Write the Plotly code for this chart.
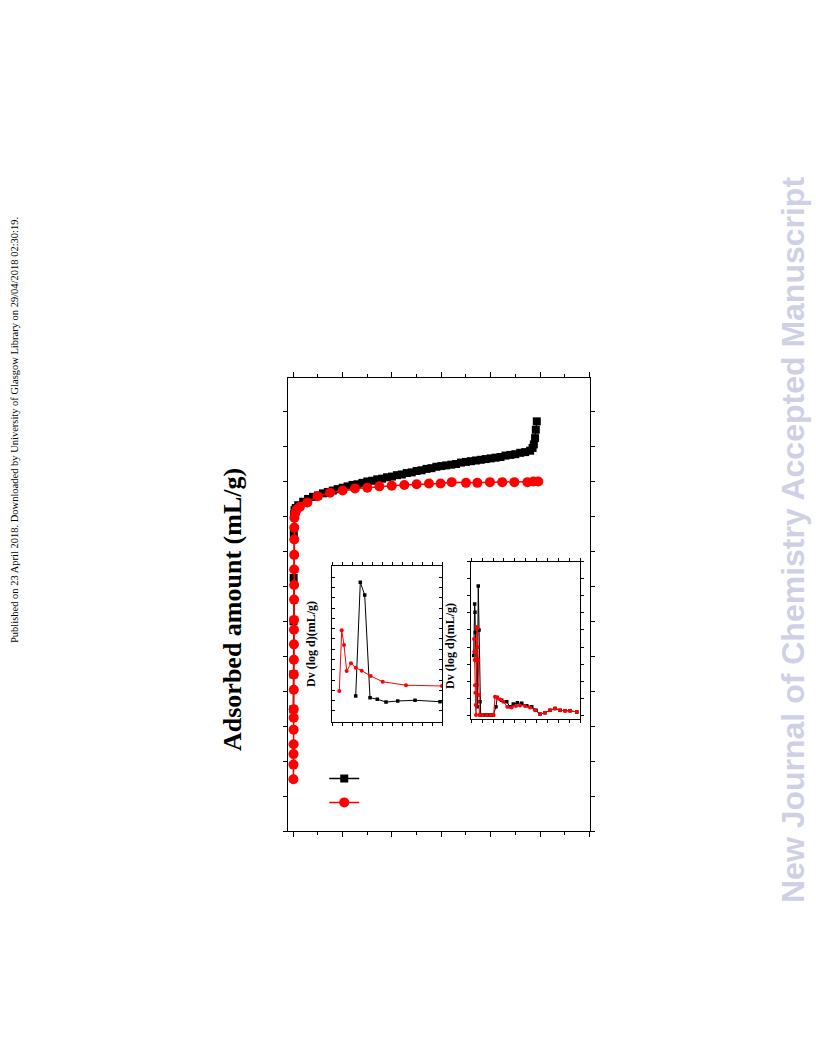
import plotly.graph_objects as go

# ---------------- main isotherm data ----------------
black_p = [0.0002, 0.0005, 0.001, 0.0015, 0.002, 0.003, 0.005,
           0.01, 0.02, 0.04, 0.06, 0.08, 0.10, 0.12, 0.14, 0.16, 0.18, 0.20,
           0.22, 0.24, 0.26, 0.28, 0.30, 0.32, 0.34, 0.36, 0.38, 0.40, 0.42,
           0.44, 0.46, 0.48, 0.50, 0.52, 0.54, 0.56, 0.58, 0.60, 0.62, 0.64,
           0.66, 0.68, 0.70, 0.72, 0.74, 0.76, 0.78, 0.80, 0.82, 0.84, 0.86,
           0.88, 0.90, 0.92, 0.94, 0.96, 0.97, 0.975, 0.98, 0.983, 0.987]
black_v = [174, 224, 300, 362, 426, 453, 459,
           462, 466, 471, 475, 478, 480, 483, 485, 487, 489, 491,
           493, 495, 496, 498, 500, 501, 503, 504, 506, 507, 509,
           510, 512, 513, 515, 516, 518, 519, 521, 522, 523, 524,
           525, 527, 528, 529, 530, 531, 532, 533, 534, 535, 537,
           538, 539, 541, 542, 544, 548, 553, 562, 574, 586]

red_p = [0.0005, 0.0007, 0.0009, 0.0011, 0.0013, 0.0015, 0.0017, 0.0019,
         0.0021, 0.0023, 0.0025, 0.0027, 0.0029, 0.0031, 0.0033, 0.0035,
         0.0037, 0.0039, 0.004, 0.0045,
         0.008, 0.014, 0.027, 0.057, 0.099, 0.149, 0.200, 0.250, 0.300,
         0.349, 0.399, 0.450, 0.500, 0.550, 0.597, 0.642, 0.700, 0.746,
         0.797, 0.847, 0.896, 0.949, 0.973, 0.993]
red_v = [74, 95, 110, 124, 145, 162, 174, 202, 224, 245, 267, 288, 302,
         331, 352, 374, 395, 417, 434, 448,
         455, 460, 464, 470, 479, 484, 487, 490, 491, 493, 494, 495, 496,
         497, 497, 499, 498, 498, 499, 499, 499, 499, 500, 500]

# ---------------- inset 1 (micropore distribution) ----------------
in1_black_x = [0.537, 0.583, 0.627, 0.680, 0.753, 0.840, 0.957, 1.130, 1.380]
in1_black_y = [0.146, 1.250, 1.126, 0.129, 0.114, 0.087, 0.097, 0.104, 0.090]
in1_red_x = [0.373, 0.397, 0.420, 0.447, 0.490, 0.537, 0.597, 0.687, 0.807, 1.040, 1.400]
in1_red_y = [0.194, 0.783, 0.641, 0.388, 0.463, 0.420, 0.391, 0.340, 0.284, 0.250, 0.243]

# ---------------- inset 2 (full pore size distribution) ----------------
in2_black_x = [0.22, 0.31, 0.34, 0.37, 0.43, 0.50, 0.55, 0.64, 0.71, 0.80, 0.86,
               1.20, 1.50, 1.80, 2.02, 2.27, 2.39, 2.80, 3.26, 3.56, 3.86, 4.23,
               4.64, 5.10, 5.56, 5.95, 6.32, 6.78, 7.24, 7.70, 8.16, 8.62, 9.08, 9.70]
in2_black_y = [0.350, 0.653, 0.604, 0.486, 0.324, 0.176, 0.049, 0.759, 0.500, 0.078, 0.0,
               0.0, 0.0, 0.0, 0.0, 0.049, 0.104, 0.088, 0.078, 0.049, 0.065, 0.072,
               0.069, 0.055, 0.049, 0.029, 0.006, 0.014, 0.029, 0.039, 0.029, 0.025, 0.025, 0.019]
in2_red_x = [0.25, 0.27, 0.31, 0.34, 0.37, 0.40, 0.43, 0.50, 0.55, 0.58, 0.64, 0.71, 0.75,
             1.00, 1.40, 1.80, 2.05, 2.18, 2.39, 2.64, 2.94, 3.31, 3.72, 4.11, 4.48,
             4.94, 5.40, 5.86, 6.32, 6.78, 7.24, 7.70, 8.16, 8.62, 9.08, 9.70]
in2_red_y = [0.447, 0.372, 0.324, 0.176, 0.131, 0.059, 0.0, 0.518, 0.510, 0.398, 0.324, 0.118, 0.0,
             0.0, 0.0, 0.0, 0.0, 0.108, 0.104, 0.092, 0.078, 0.049, 0.045, 0.053, 0.057,
             0.053, 0.045, 0.029, 0.006, 0.014, 0.029, 0.039, 0.029, 0.025, 0.025, 0.019]

y_title = "Adsorbed amount (mL/g)"
inset_title = "Dv (log d)(mL/g)"
side_note = "Published on 23 April 2018. Downloaded by University of Glasgow Library on 29/04/2018 02:30:19."
watermark = "New Journal of Chemistry Accepted Manuscript"

fig = go.Figure()

fig.add_trace(go.Scatter(x=black_p, y=black_v, mode="lines+markers", name=" ",
                         line=dict(color="black", width=1.5),
                         marker=dict(symbol="square", size=8, color="black")))
fig.add_trace(go.Scatter(x=red_p, y=red_v, mode="lines+markers", name=" ",
                         line=dict(color="#ff0000", width=1.5),
                         marker=dict(symbol="circle", size=10, color="#ff0000")))

fig.add_trace(go.Scatter(x=in1_black_x, y=in1_black_y, mode="lines+markers", showlegend=False,
                         xaxis="x2", yaxis="y2",
                         line=dict(color="black", width=1),
                         marker=dict(symbol="square", size=3.5, color="black")))
fig.add_trace(go.Scatter(x=in1_red_x, y=in1_red_y, mode="lines+markers", showlegend=False,
                         xaxis="x2", yaxis="y2",
                         line=dict(color="#ff0000", width=1),
                         marker=dict(symbol="circle", size=4, color="#ff0000")))

fig.add_trace(go.Scatter(x=in2_black_x, y=in2_black_y, mode="lines+markers", showlegend=False,
                         xaxis="x3", yaxis="y3",
                         line=dict(color="black", width=1),
                         marker=dict(symbol="square", size=3.5, color="black")))
fig.add_trace(go.Scatter(x=in2_red_x, y=in2_red_y, mode="lines+markers", showlegend=False,
                         xaxis="x3", yaxis="y3",
                         line=dict(color="#ff0000", width=1),
                         marker=dict(symbol="circle", size=4, color="#ff0000")))

axis_common = dict(showline=True, linecolor="black", mirror="ticks", showgrid=False,
                   zeroline=False, showticklabels=False, tickcolor="black")

fig.update_layout(
    width=816, height=1056,
    margin=dict(l=288, r=226, t=378, b=225),
    paper_bgcolor="white", plot_bgcolor="white",
    font=dict(family="Liberation Serif", color="black"),
    xaxis=dict(**axis_common, range=[-0.0215, 1.2027], dtick=0.2, tick0=0,
               ticks="outside", ticklen=5, linewidth=1.3,
               minor=dict(dtick=0.1, ticks="outside", ticklen=3, tickcolor="black")),
    yaxis=dict(**axis_common, range=[0, 648], dtick=50, tick0=0,
               ticks="outside", ticklen=4, linewidth=1.3),
    xaxis2=dict(**axis_common, domain=[0.1457, 0.51], anchor="y2",
                range=[0.3, 1.4], dtick=0.1, tick0=0.3, ticks="outside", ticklen=3, linewidth=1),
    yaxis2=dict(**axis_common, domain=[0.2406, 0.585], anchor="x2",
                range=[-0.107, 1.408], dtick=0.1, tick0=0, ticks="inside", ticklen=3, linewidth=1),
    xaxis3=dict(**axis_common, domain=[0.607, 0.967], anchor="y3",
                range=[0, 10], dtick=1, tick0=0, ticks="outside", ticklen=3, linewidth=1),
    yaxis3=dict(**axis_common, domain=[0.247, 0.594], anchor="x3",
                range=[-0.0235, 0.9], dtick=0.1, tick0=0, ticks="outside", ticklen=3, linewidth=1),
    legend=dict(x=0.12, y=0.153, xanchor="left", yanchor="top",
                bgcolor="rgba(0,0,0,0)", font=dict(size=16), tracegroupgap=0),
    showlegend=True,
)

def note(text, px, py, size, family, color):
    fig.add_annotation(text=text, xref="paper", yref="paper",
                       x=(px - 288) / 302, y=(831 - py) / 453,
                       xanchor="center", yanchor="middle", textangle=-90, showarrow=False,
                       font=dict(family=family, size=size, color=color))

note("<b>%s</b>" % y_title, 232, 610, 26, "Liberation Serif", "black")
note("<b>%s</b>" % inset_title, 311, 644, 12, "Liberation Serif", "black")
note("<b>%s</b>" % inset_title, 450, 646, 12, "Liberation Serif", "black")
note(side_note, 14, 430, 10.5, "Liberation Serif", "black")
note("<b>%s</b>" % watermark, 793, 540, 32, "Liberation Sans", "#cfd0e6")

fig.write_html("out.html", post_script="document.body.style.margin='0px';",
               config={"displayModeBar": False})
